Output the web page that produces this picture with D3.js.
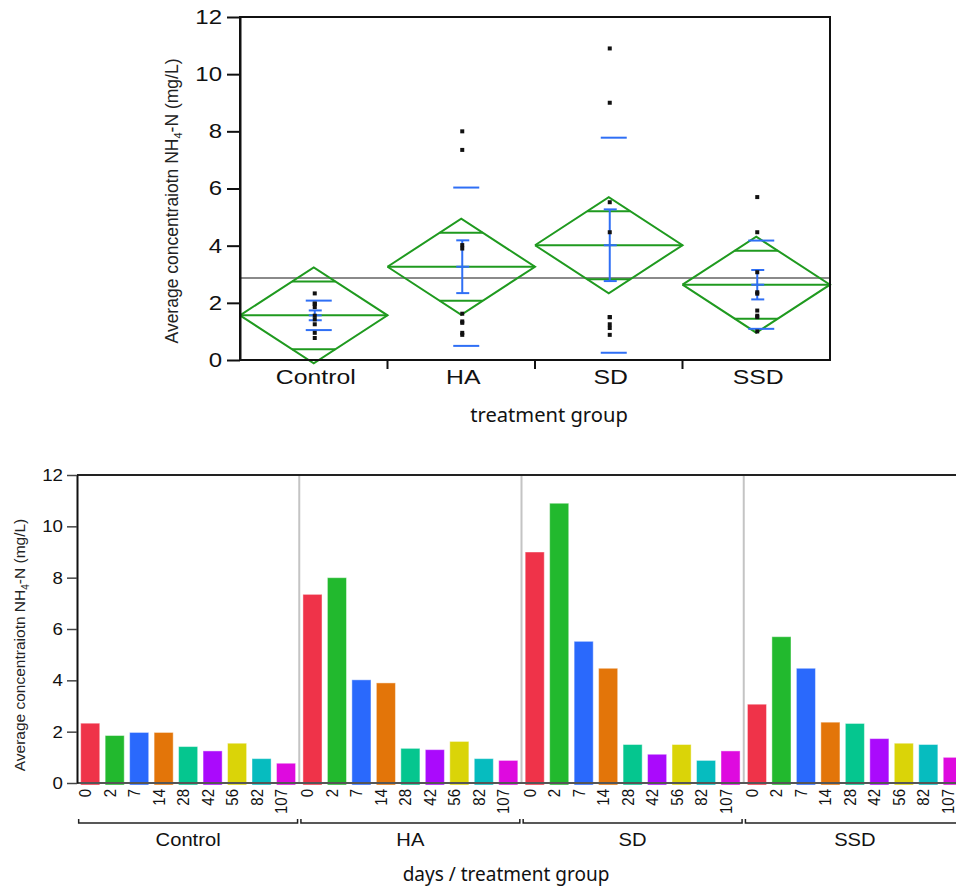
<!DOCTYPE html>
<html>
<head>
<meta charset="utf-8">
<script src="https://cdn.jsdelivr.net/npm/d3@7"></script>
<style>
  body { margin: 0; background: #fff; }
  svg text { font-family: "Liberation Sans", Arial, sans-serif; }
  .kr { font-family: "Noto Sans", "Open Sans", sans-serif; }
</style>
</head>
<body>
<div id="chart"></div>
<script>
// données
const groups = ["Control", "HA", "SD", "SSD"];
const days = ["0", "2", "7", "14", "28", "42", "56", "82", "107"];
const dayColors = ["#ef3349", "#22b92e", "#2a69fc", "#e37509", "#05c68f", "#aa0afc", "#dad408", "#06bcbf", "#de0adf"];

const controlVals = [2.33, 1.85, 1.97, 1.97, 1.42, 1.25, 1.55, 0.95, 0.77];
const haVals = [7.35, 8.0, 4.02, 3.9, 1.35, 1.3, 1.62, 0.95, 0.88];
const sdVals = [9.0, 10.9, 5.52, 4.47, 1.5, 1.12, 1.5, 0.88, 1.25];
const ssdVals = [3.07, 5.7, 4.47, 2.37, 2.32, 1.73, 1.55, 1.5, 1.0];
const valuesByGroup = [controlVals, haVals, sdVals, ssdVals];

const yTicks = [0, 2, 4, 6, 8, 10, 12];

const width = 956, height = 887;
const svg = d3.select("#chart").append("svg")
  .attr("width", width).attr("height", height);

const green = "#1f9a1f", blue = "#2f6ff5";

// étire le texte horizontalement (l'image d'origine est un peu élargie)
function stretch(sel, f) {
  sel.each(function () {
    const L = this.getComputedTextLength();
    d3.select(this).attr("textLength", L * f).attr("lengthAdjust", "spacingAndGlyphs");
  });
}

// statistiques (moyenne, écart-type, erreur standard, IC poolé)
const stats = valuesByGroup.map(v => {
  const m = d3.mean(v), s = d3.deviation(v);
  return { mean: m, sd: s, se: s / Math.sqrt(v.length), n: v.length };
});
const pooledVar = d3.sum(valuesByGroup, v => d3.variance(v) * (v.length - 1)) /
  d3.sum(valuesByGroup, v => v.length - 1);
const tCrit = 2.037;
const grandMean = d3.mean(valuesByGroup.flat());

// ---------- graphique du haut ----------
const x1 = d3.scaleBand().domain(groups).range([240, 830]);
const y1 = d3.scaleLinear().domain([0, 12]).range([360, 17]);

const gTop = svg.append("g");

// ligne de la moyenne globale
gTop.append("line")
  .attr("x1", 240).attr("x2", 830)
  .attr("y1", y1(grandMean)).attr("y2", y1(grandMean))
  .attr("stroke", "#8a8a8a").attr("stroke-width", 2);

groups.forEach((g, i) => {
  const st = stats[i];
  const x0 = x1(g), xw = x1.bandwidth(), xc = x0 + xw / 2;
  const ci = tCrit * Math.sqrt(pooledVar) / Math.sqrt(st.n);
  const ov = ci * Math.SQRT2 / 2;
  const gg = gTop.append("g");

  // losange
  gg.append("path")
    .attr("d", d3.line()([
      [x0, y1(st.mean)], [xc, y1(st.mean + ci)], [x0 + xw, y1(st.mean)],
      [xc, y1(st.mean - ci)], [x0, y1(st.mean)]
    ]))
    .attr("fill", "none").attr("stroke", green).attr("stroke-width", 2);
  gg.append("line").attr("x1", x0).attr("x2", x0 + xw)
    .attr("y1", y1(st.mean)).attr("y2", y1(st.mean))
    .attr("stroke", green).attr("stroke-width", 2);
  [st.mean + ov, st.mean - ov].forEach(v => {
    const half = xw / 2 * (1 - ov / ci);
    gg.append("line").attr("x1", xc - half).attr("x2", xc + half)
      .attr("y1", y1(v)).attr("y2", y1(v))
      .attr("stroke", green).attr("stroke-width", 2);
  });

  // lignes écart-type
  const px = xc + 1;
  [st.mean + st.sd, st.mean - st.sd].forEach(v => {
    gg.append("line").attr("x1", px - 9).attr("x2", px + 17)
      .attr("y1", y1(v)).attr("y2", y1(v))
      .attr("stroke", blue).attr("stroke-width", 2);
  });

  // barre d'erreur (erreur standard)
  gg.append("line").attr("x1", px).attr("x2", px)
    .attr("y1", y1(st.mean + st.se)).attr("y2", y1(st.mean - st.se))
    .attr("stroke", blue).attr("stroke-width", 2);
  [st.mean + st.se, st.mean - st.se].forEach(v => {
    gg.append("line").attr("x1", px - 6).attr("x2", px + 7)
      .attr("y1", y1(v)).attr("y2", y1(v))
      .attr("stroke", blue).attr("stroke-width", 2);
  });
  gg.append("line").attr("x1", px - 6).attr("x2", px + 7)
    .attr("y1", y1(st.mean)).attr("y2", y1(st.mean))
    .attr("stroke", blue).attr("stroke-width", 2);

  // points
  gg.selectAll("rect.pt").data(valuesByGroup[i]).join("rect")
    .attr("class", "pt")
    .attr("x", px - 2).attr("y", d => y1(d) - 2)
    .attr("width", 4).attr("height", 4).attr("fill", "#111");
});

// cadre
gTop.append("rect").attr("x", 240).attr("y", 17).attr("width", 590).attr("height", 343)
  .attr("fill", "none").attr("stroke", "#111").attr("stroke-width", 2);

// axe y
const yAxis1 = gTop.append("g").attr("transform", "translate(240,0)")
  .call(d3.axisLeft(y1).tickValues(yTicks).tickSize(13).tickSizeOuter(0));
yAxis1.select(".domain").attr("stroke", "#111").attr("stroke-width", 2);
yAxis1.selectAll(".tick line").attr("stroke", "#111").attr("stroke-width", 2);
yAxis1.selectAll(".tick text").attr("font-size", 20).attr("fill", "#111")
  .attr("x", -18).call(stretch, 1.2);

// axe x
const xAxis1 = gTop.append("g").attr("transform", "translate(0,360)");
xAxis1.selectAll("line").data(groups.slice(1)).join("line")
  .attr("x1", d => x1(d)).attr("x2", d => x1(d))
  .attr("y1", 0).attr("y2", 9).attr("stroke", "#111").attr("stroke-width", 2);
xAxis1.selectAll("text").data(groups).join("text")
  .attr("x", d => x1(d) + x1.bandwidth() / 2 + 2).attr("y", 24)
  .attr("text-anchor", "middle").attr("font-size", 21).attr("fill", "#111")
  .text(d => d).call(stretch, 1.18);

gTop.append("text").attr("class", "kr")
  .attr("x", 549).attr("y", 422).attr("text-anchor", "middle")
  .attr("font-size", 19).attr("fill", "#111").text("treatment group")
  .call(stretch, 1.06);

const yl1 = gTop.append("text")
  .attr("transform", "translate(178,201) rotate(-90)")
  .attr("text-anchor", "middle").attr("font-size", 17.5).attr("fill", "#222");
yl1.append("tspan").text("Average concentraiotn NH");
yl1.append("tspan").attr("font-size", 11).attr("dy", 4).text("4");
yl1.append("tspan").attr("dy", -4).text("-N (mg/L)");

// ---------- graphique du bas ----------
const xg = d3.scaleBand().domain(groups).range([77, 966]);
const xd = d3.scaleBand().domain(days).range([0, xg.bandwidth()])
  .paddingInner(0.22).paddingOuter(0.15);
const y2 = d3.scaleLinear().domain([0, 12]).range([783, 475]);

const gBot = svg.append("g");

// séparateurs
gBot.selectAll("line.sep").data(groups.slice(1)).join("line")
  .attr("class", "sep")
  .attr("x1", d => xg(d)).attr("x2", d => xg(d))
  .attr("y1", 475).attr("y2", 783)
  .attr("stroke", "#c4c4c4").attr("stroke-width", 2);

// barres
groups.forEach((g, i) => {
  const gb = gBot.append("g").attr("transform", `translate(${xg(g)},0)`);
  gb.selectAll("rect").data(valuesByGroup[i]).join("rect")
    .attr("x", (d, j) => xd(days[j]))
    .attr("y", d => y2(d))
    .attr("width", xd.bandwidth())
    .attr("height", d => y2(0) - y2(d) + 2)
    .attr("fill", (d, j) => dayColors[j])
    .attr("stroke", "#ffffff").attr("stroke-opacity", 0.45).attr("stroke-width", 1);

  gb.selectAll("text.day").data(days).join("text")
    .attr("class", "day")
    .attr("transform", d => `translate(${xd(d) + xd.bandwidth() / 2 + 1},789) scale(1.15,1) rotate(-90)`)
    .attr("text-anchor", "end").attr("font-size", 15).attr("fill", "#111")
    .text(d => d);

  // accolade
  const bx0 = xd(days[0]) - 2, bx1 = xd(days[days.length - 1]) + xd.bandwidth() + 2;
  gb.append("path")
    .attr("d", `M${bx0},819 L${bx0},823 L${bx1},823 L${bx1},819`)
    .attr("fill", "none").attr("stroke", "#222").attr("stroke-width", 1.5);
  gb.append("text").attr("class", "grp")
    .attr("x", xg.bandwidth() / 2).attr("y", 846)
    .attr("text-anchor", "middle").attr("font-size", 18).attr("fill", "#111")
    .text(g).call(stretch, 1.12);
});

// bordure haute et ligne zéro
gBot.append("line").attr("x1", 77).attr("x2", 956).attr("y1", 475).attr("y2", 475)
  .attr("stroke", "#222").attr("stroke-width", 2);
gBot.append("line").attr("x1", 77).attr("x2", 956).attr("y1", 783).attr("y2", 783)
  .attr("stroke", "#555").attr("stroke-width", 2);

const yAxis2 = gBot.append("g").attr("transform", "translate(77,0)")
  .call(d3.axisLeft(y2).tickValues(yTicks).tickSize(10).tickSizeOuter(0));
yAxis2.select(".domain").attr("stroke", "#111").attr("stroke-width", 2);
yAxis2.selectAll(".tick line").attr("stroke", "#444").attr("stroke-width", 1.5);
yAxis2.selectAll(".tick text").attr("font-size", 17).attr("fill", "#111")
  .attr("x", -14).call(stretch, 1.1);

const yl2 = gBot.append("text")
  .attr("transform", "translate(25,645) rotate(-90)")
  .attr("text-anchor", "middle").attr("font-size", 15.5).attr("fill", "#222");
yl2.append("tspan").text("Average concentraiotn NH");
yl2.append("tspan").attr("font-size", 10).attr("dy", 4).text("4");
yl2.append("tspan").attr("dy", -4).text("-N (mg/L)");

gBot.append("text").attr("class", "kr")
  .attr("x", 506).attr("y", 881).attr("text-anchor", "middle")
  .attr("font-size", 19).attr("fill", "#111").text("days / treatment group");
</script>
</body>
</html>
